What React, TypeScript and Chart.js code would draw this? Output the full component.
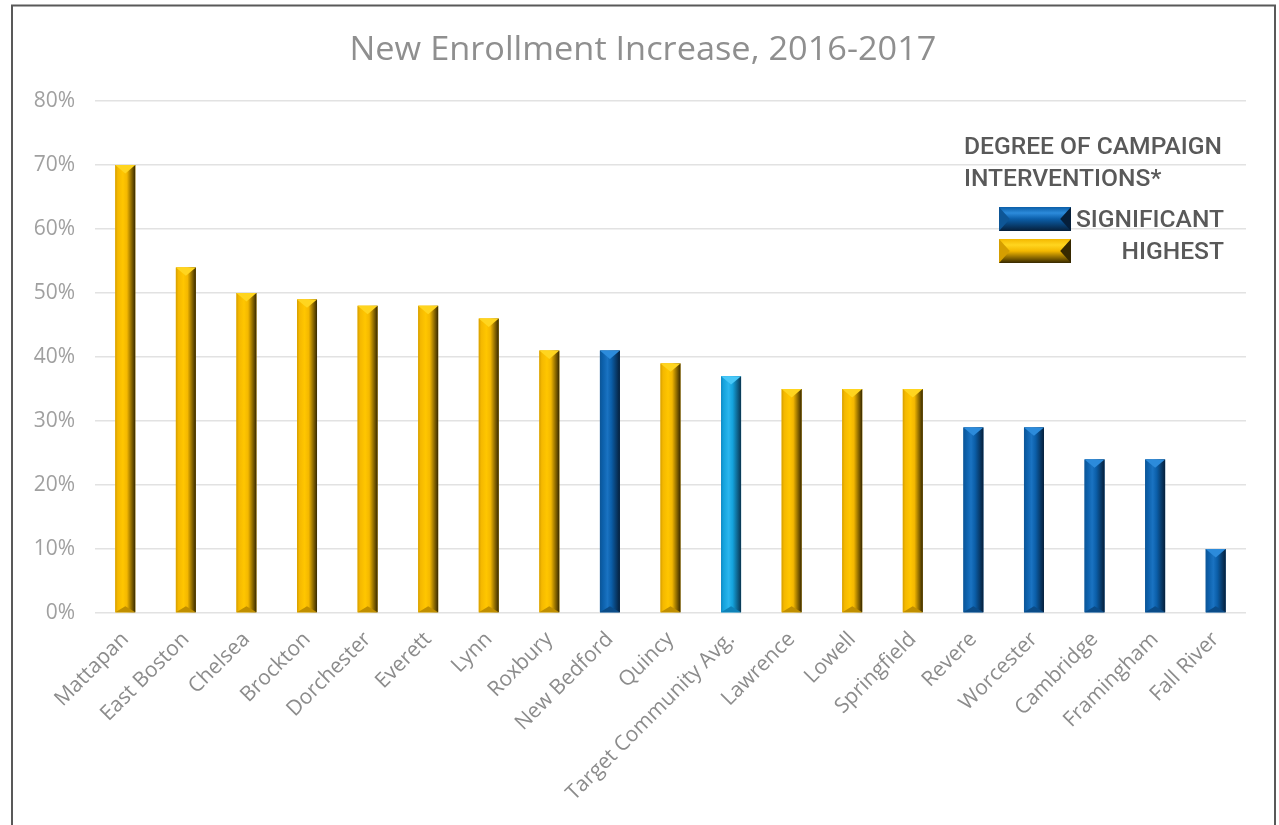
import { useEffect, useRef } from 'react';
import { Chart, registerables } from 'chart.js';

Chart.register(...registerables);

const titleText = 'New Enrollment Increase, 2016-2017';

const categories = [
  'Mattapan', 'East Boston', 'Chelsea', 'Brockton', 'Dorchester', 'Everett', 'Lynn',
  'Roxbury', 'New Bedford', 'Quincy', 'Target Community Avg.', 'Lawrence', 'Lowell',
  'Springfield', 'Revere', 'Worcester', 'Cambridge', 'Framingham', 'Fall River',
];

const values = [70, 54, 50, 49, 48, 48, 46, 41, 41, 39, 37, 35, 35, 35, 29, 29, 24, 24, 10];

const groups = [
  'highest', 'highest', 'highest', 'highest', 'highest', 'highest', 'highest',
  'highest', 'significant', 'highest', 'avg', 'highest', 'highest',
  'highest', 'significant', 'significant', 'significant', 'significant', 'significant',
];

const yTickValues = [0, 10, 20, 30, 40, 50, 60, 70, 80];

const legendTitleLines = ['DEGREE OF CAMPAIGN', 'INTERVENTIONS*'];
const legendLabels = ['SIGNIFICANT', 'HIGHEST'];
const legendGroups = ['significant', 'highest'];

type Pal = { edge: string; main: string; light: string; dark: string; top: string; bottom: string };

const palettes: Record<string, Pal> = {
  highest: { edge: '#D59E00', main: '#F4B800', light: '#FFC600', dark: '#362800', top: '#FFD51F', bottom: '#C08F00' },
  significant: { edge: '#0E5696', main: '#0B5EA8', light: '#1A73C2', dark: '#061F3A', top: '#2C8BDB', bottom: '#0B4C88' },
  avg: { edge: '#1088C2', main: '#14A2DC', light: '#2AB6EE', dark: '#0A3551', top: '#48C8F8', bottom: '#0E82B8' },
};

function drawVerticalBevel(ctx: CanvasRenderingContext2D, l: number, t: number, w: number, h: number, p: Pal) {
  const r = l + w;
  const b = t + h;
  const cx = l + w / 2;
  const g = ctx.createLinearGradient(l, 0, r, 0);
  g.addColorStop(0, p.edge);
  g.addColorStop(0.12, p.main);
  g.addColorStop(0.38, p.light);
  g.addColorStop(0.58, p.main);
  g.addColorStop(1, p.dark);
  ctx.fillStyle = g;
  ctx.fillRect(l, t, w, h);
  const d = Math.min(w * 0.42, h / 2);
  ctx.beginPath();
  ctx.moveTo(l, t);
  ctx.lineTo(r, t);
  ctx.lineTo(cx, t + d);
  ctx.closePath();
  ctx.fillStyle = p.top;
  ctx.fill();
  const d2 = Math.min(w * 0.3, h / 2);
  ctx.beginPath();
  ctx.moveTo(l, b);
  ctx.lineTo(r, b);
  ctx.lineTo(cx, b - d2);
  ctx.closePath();
  ctx.fillStyle = p.bottom;
  ctx.fill();
}

function drawHorizontalBevel(ctx: CanvasRenderingContext2D, l: number, t: number, w: number, h: number, p: Pal) {
  const r = l + w;
  const b = t + h;
  const cy = t + h / 2;
  const g = ctx.createLinearGradient(0, t, 0, b);
  g.addColorStop(0, p.main);
  g.addColorStop(0.25, p.top);
  g.addColorStop(0.5, p.main);
  g.addColorStop(1, p.dark);
  ctx.fillStyle = g;
  ctx.fillRect(l, t, w, h);
  const d = h * 0.45;
  ctx.beginPath();
  ctx.moveTo(l, t);
  ctx.lineTo(l, b);
  ctx.lineTo(l + d, cy);
  ctx.closePath();
  ctx.fillStyle = p.edge;
  ctx.fill();
  ctx.beginPath();
  ctx.moveTo(r, t);
  ctx.lineTo(r, b);
  ctx.lineTo(r - d, cy);
  ctx.closePath();
  ctx.fillStyle = p.dark;
  ctx.fill();
}

const framePlugin = {
  id: 'frame',
  beforeDraw(chart: any) {
    const ctx = chart.ctx as CanvasRenderingContext2D;
    ctx.save();
    ctx.fillStyle = '#ffffff';
    ctx.fillRect(0, 0, chart.width, chart.height);
    ctx.strokeStyle = '#595959';
    ctx.lineWidth = 2;
    ctx.strokeRect(12, 5.5, 1263, 900);
    ctx.restore();
  },
};

const bevelPlugin = {
  id: 'bevel',
  afterDatasetsDraw(chart: any) {
    const ctx = chart.ctx as CanvasRenderingContext2D;
    const meta = chart.getDatasetMeta(0);
    ctx.save();
    meta.data.forEach((el: any, i: number) => {
      const { x, y, base, width } = el.getProps(['x', 'y', 'base', 'width'], true);
      drawVerticalBevel(ctx, x - width / 2, y, width, base - y, palettes[groups[i]]);
    });
    ctx.restore();
  },
};

const titlePlugin = {
  id: 'customTitle',
  afterDraw(chart: any) {
    const ctx = chart.ctx as CanvasRenderingContext2D;
    ctx.save();
    ctx.font = '32px "Open Sans", sans-serif';
    ctx.fillStyle = '#8f8f8f';
    ctx.textBaseline = 'alphabetic';
    ctx.textAlign = 'center';
    const sx = 587 / ctx.measureText(titleText).width;
    ctx.translate(643, 60);
    ctx.scale(sx, 1);
    ctx.fillText(titleText, 0, 0);
    ctx.restore();
  },
};

const legendPlugin = {
  id: 'customLegend',
  afterDraw(chart: any) {
    const ctx = chart.ctx as CanvasRenderingContext2D;
    ctx.save();
    ctx.font = '500 24px Roboto, "Liberation Sans", sans-serif';
    ctx.textBaseline = 'alphabetic';
    const sx = 258 / ctx.measureText(legendTitleLines[0]).width;
    const drawText = (text: string, x: number, y: number, alignRight: boolean) => {
      ctx.save();
      ctx.fillStyle = '#595959';
      ctx.translate(x, y);
      ctx.scale(sx, 1);
      ctx.textAlign = alignRight ? 'right' : 'left';
      ctx.fillText(text, 0, 0);
      ctx.restore();
    };
    drawText(legendTitleLines[0], 964, 154, false);
    drawText(legendTitleLines[1], 964, 186, false);
    const rowsY = [207, 239];
    legendLabels.forEach((label, i) => {
      drawHorizontalBevel(ctx, 999, rowsY[i], 72, 24, palettes[legendGroups[i]]);
      drawText(label, 1224, rowsY[i] + 20, true);
    });
    ctx.restore();
  },
};

export default function App() {
  const ref = useRef<HTMLCanvasElement>(null);

  useEffect(() => {
    document.body.style.margin = '0';
    const canvas = ref.current;
    if (!canvas) return;
    const chart = new Chart(canvas, {
      type: 'bar',
      data: {
        labels: categories,
        datasets: [
          {
            data: values,
            backgroundColor: groups.map((g) => palettes[g].main),
            borderWidth: 0,
            barPercentage: 0.33,
            categoryPercentage: 1,
          },
        ],
      },
      options: {
        animation: false,
        responsive: false,
        maintainAspectRatio: false,
        layout: { padding: { left: 0, right: 33, top: 101, bottom: 0 } },
        plugins: {
          legend: { display: false },
          tooltip: { enabled: false },
          title: { display: false },
        },
        scales: {
          x: {
            grid: { display: false },
            border: { display: false },
            ticks: {
              autoSkip: false,
              maxRotation: 45,
              minRotation: 45,
              color: '#8c8c8c',
              font: { family: '"Open Sans", sans-serif', size: 21 },
              padding: 6,
            },
            afterFit(scale: any) {
              scale.height = 212;
            },
          },
          y: {
            min: 0,
            max: 80,
            afterBuildTicks(scale: any) {
              scale.ticks = yTickValues.map((v) => ({ value: v }));
            },
            grid: { color: '#e2e2e2', lineWidth: 1.5, drawTicks: false },
            border: { display: false },
            ticks: {
              color: '#a0a0a0',
              font: { family: '"Open Sans", sans-serif', size: 21 },
              padding: 20,
              callback: (v: any) => v + '%',
            },
            afterFit(scale: any) {
              scale.width = 95;
            },
          },
        },
      },
      plugins: [framePlugin, bevelPlugin, titlePlugin, legendPlugin],
    });
    return () => chart.destroy();
  }, []);

  return (
    <div style={{ width: 1279, height: 825 }}>
      <canvas ref={ref} width={1279} height={825} style={{ display: 'block' }} />
    </div>
  );
}
